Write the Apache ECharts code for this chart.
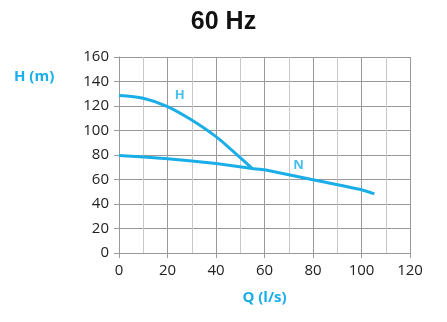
<!DOCTYPE html>
<html><head><meta charset="utf-8">
<script src="https://cdn.jsdelivr.net/npm/echarts@6/dist/echarts.min.js"></script>
<style>html,body{margin:0;padding:0;background:#fff}#c{width:447px;height:322px}</style>
</head><body><div id="c"></div>
<script>
var hQ = [0, 10, 20, 30, 40, 45, 50, 55];
var hH = [128.5, 126.3, 119.5, 108.5, 95, 86.7, 77.8, 68.8];
var nQ = [0, 20, 40, 55, 60, 80, 100, 105.3];
var nH = [79.6, 77, 73, 69, 67.9, 59.8, 51.6, 48.3];
var curveLabels = [["H", 25, 129], ["N", 74, 72]];
var xTicks = [0, 20, 40, 60, 80, 100, 120];
var yTicks = [0, 20, 40, 60, 80, 100, 120, 140, 160];
var blue = '#1AAEE8';
function pairs(xs, ys){ return xs.map(function(x,i){return [x, ys[i]];}); }
var chart = echarts.init(document.getElementById('c'));
chart.setOption({
  animation:false,
  title:{text:'60 Hz', left:'center', top:5, textStyle:{fontFamily:'Liberation Sans, Arial', fontSize:25, fontWeight:'bold', color:'#111'}},
  grid:{left:119, right:37, top:57, bottom:69},
  graphic:[{type:'text', left:14, top:69, style:{text:'H (m)', fill:blue, font:'bold 15px "Open Sans", sans-serif'}}],
  xAxis:{type:'value', min:xTicks[0], max:xTicks[xTicks.length-1], interval:20,
    name:'Q (l/s)', nameLocation:'middle', nameGap:37,
    nameTextStyle:{color:blue, fontWeight:'bold', fontSize:15, fontFamily:'"Open Sans", sans-serif'},
    axisLine:{lineStyle:{color:'#999'}}, axisTick:{show:true, length:5, lineStyle:{color:'#999'}},
    axisLabel:{color:'#222', fontSize:15, margin:10, fontFamily:'"Open Sans", sans-serif'},
    splitLine:{show:true, lineStyle:{color:'#999', width:1}},
    minorTick:{show:false, splitNumber:2},
    minorSplitLine:{show:true, lineStyle:{color:'#c8c8c8', width:1}}},
  yAxis:{type:'value', min:yTicks[0], max:yTicks[yTicks.length-1], interval:20,
    axisLine:{show:true, lineStyle:{color:'#999'}}, axisTick:{show:true, length:5, lineStyle:{color:'#999'}},
    axisLabel:{color:'#222', fontSize:15, margin:10, fontFamily:'"Open Sans", sans-serif'},
    splitLine:{show:true, lineStyle:{color:'#999', width:1}}},
  series:[
    {type:'line', data:pairs(hQ,hH), smooth:0.3, showSymbol:false, lineStyle:{color:blue, width:3}},
    {type:'line', data:pairs(nQ,nH), smooth:0.15, showSymbol:false, lineStyle:{color:blue, width:3}},
    {type:'scatter', data:curveLabels.map(function(d){return {value:[d[1],d[2]], name:d[0]};}), symbolSize:0,
      label:{show:true, position:'inside', formatter:'{b}', color:blue, fontWeight:'bold', fontSize:13, fontFamily:'"Open Sans", sans-serif'}}
  ]
});
</script></body></html>
